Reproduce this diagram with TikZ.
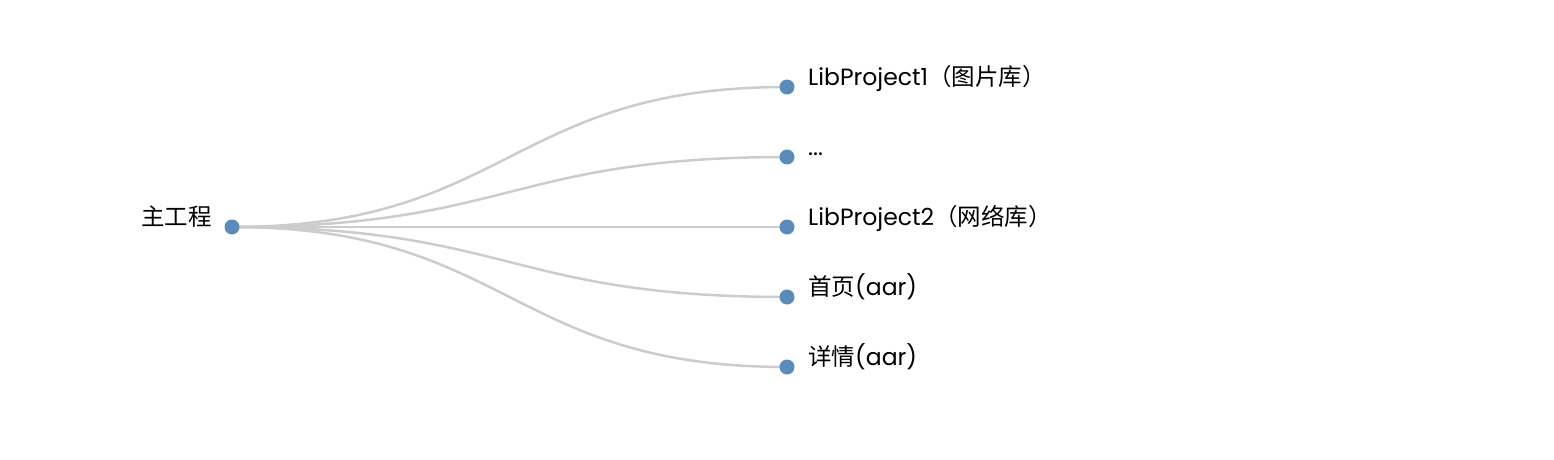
\documentclass[tikz,border=0pt]{standalone}
\usepackage{fontspec}
\setmainfont{Poppins}
\newfontfamily\cjk{Noto Sans CJK SC}
\usetikzlibrary{backgrounds}
\definecolor{dotblue}{HTML}{5A8BB9}
\definecolor{linkgray}{HTML}{CCCCCC}
\tikzset{
  dot/.style={circle, fill=dotblue, inner sep=0pt, minimum size=15pt},
  link/.style={draw=linkgray, line width=2.5pt},
  lbl/.style={inner sep=0pt, font=\fontsize{23.5}{28}\selectfont, text=black}
}
\begin{document}
\begin{tikzpicture}[x=1pt, y=-1pt]
\useasboundingbox (0,0) rectangle (1554,460);
\node[dot] (root) at (232,227) {};
\node[dot] (l1) at (787,87) {};
\node[dot] (l2) at (787,157) {};
\node[dot] (l3) at (787,227) {};
\node[dot] (l4) at (787,297) {};
\node[dot] (l5) at (787,367) {};
\node[lbl, anchor=base east] (troot) at (212,225) {{\cjk 主工程}};
\node[lbl, anchor=base west] (t1) at (808,85) {LibProject1{\cjk （图片库）}};
\node[lbl, anchor=base west] (t2) at (808,155) {...};
\node[lbl, anchor=base west] (t3) at (808,225) {LibProject2{\cjk （网络库）}};
\node[lbl, anchor=base west] (t4) at (808,295) {{\cjk 首页}(aar)};
\node[lbl, anchor=base west] (t5) at (808,365) {{\cjk 详情}(aar)};
\begin{scope}[on background layer]
\draw[link] (root.center) .. controls (509.5,227) and (509.5,87) .. (l1.center);
\draw[link] (root.center) .. controls (509.5,227) and (509.5,157) .. (l2.center);
\draw[link] (root.center) -- (l3.center);
\draw[link] (root.center) .. controls (509.5,227) and (509.5,297) .. (l4.center);
\draw[link] (root.center) .. controls (509.5,227) and (509.5,367) .. (l5.center);
\end{scope}
\end{tikzpicture}
\end{document}
